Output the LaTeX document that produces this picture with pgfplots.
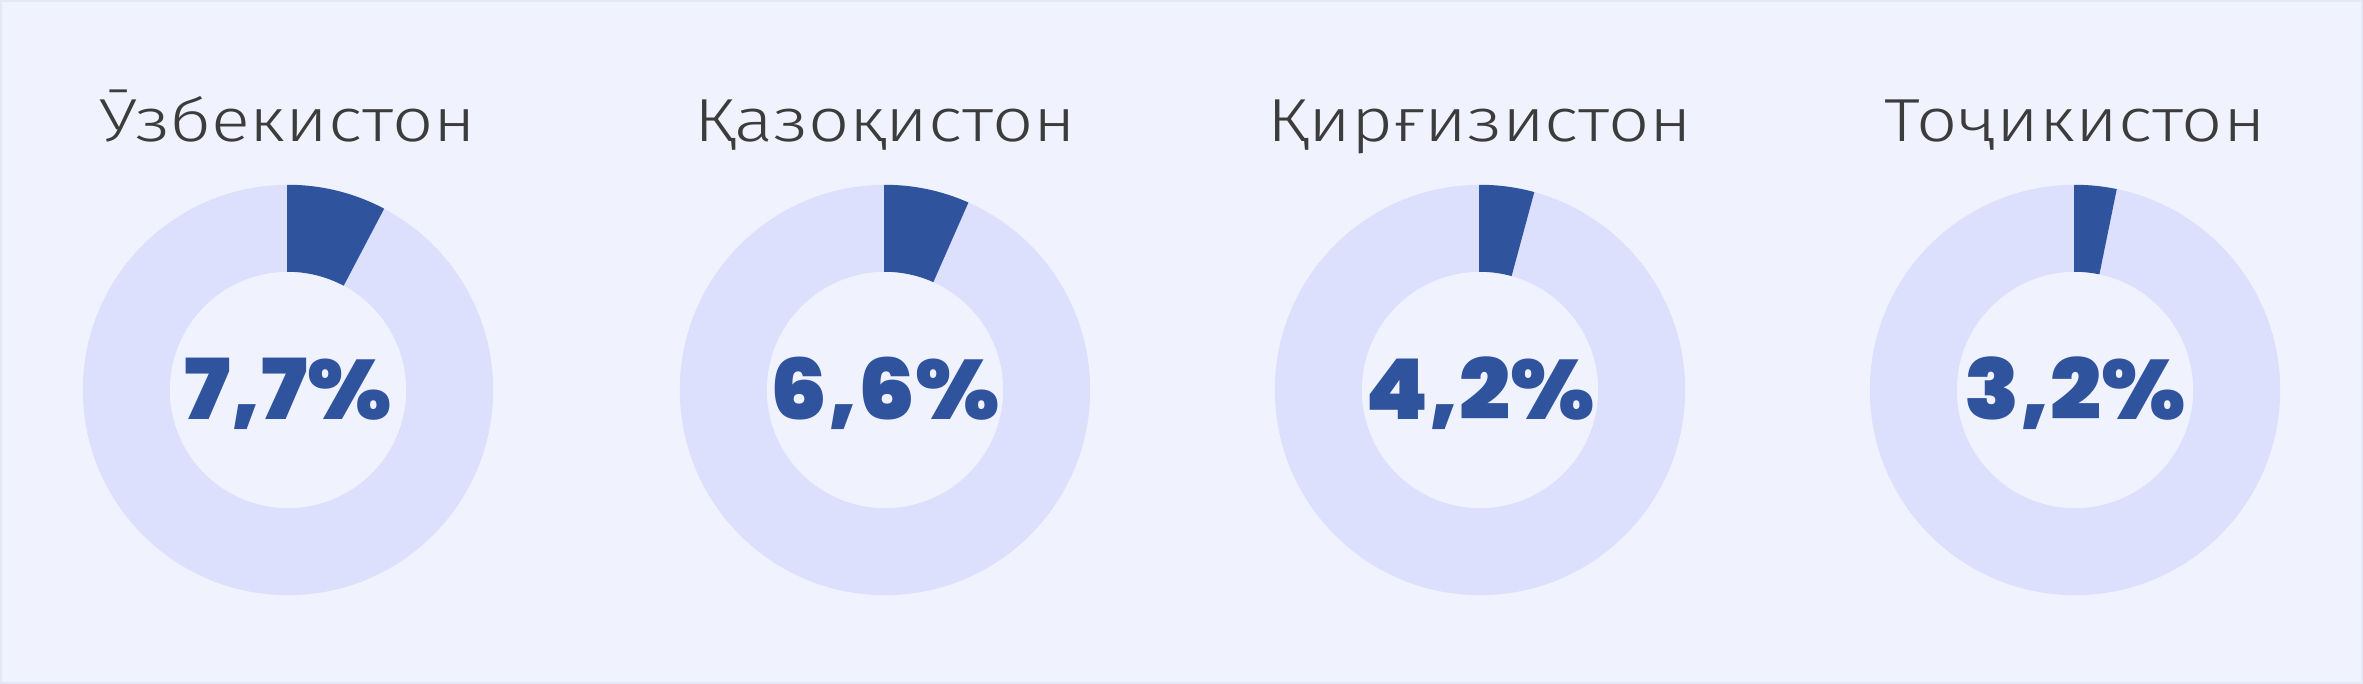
\documentclass[border=0pt]{standalone}
\usepackage{fontspec}
\usepackage{pgfplots}
\pgfplotsset{compat=1.18}
\setmainfont{Fira Sans Light}[FakeStretch=1.19]
\newfontfamily\pctfont{Poppins Black}[FakeStretch=1.07]
\definecolor{bg}{RGB}{240,243,254}
\definecolor{edge}{RGB}{228,232,246}
\definecolor{ring}{RGB}{220,224,252}
\definecolor{wedge}{RGB}{48,83,158}
\definecolor{titlegray}{RGB}{60,60,60}
\pgfdeclareplotmark{blank}{}
\begin{document}
\begin{tikzpicture}
  % 1 px of the reference = 0.25pt
  \fill[bg] (0pt,0pt) rectangle (590.75pt,171pt);
  \draw[edge, line width=0.5pt] (0.25pt,0.25pt) rectangle (590.5pt,170.75pt);
  \begin{axis}[
    at={(0pt,0pt)}, anchor=south west,
    width=590.75pt, height=171pt, scale only axis,
    xmin=0, xmax=2363, ymin=0, ymax=684,
    axis lines=none, ticks=none,
  ]
    % one donut per country, share in % read from column v
    \addplot[
      only marks, scatter, mark=blank,
      point meta=explicit,
      visualization depends on={\thisrow{v} \as \pct},
      scatter/@pre marker code/.code={%
        \fill[ring, even odd rule] (0,0) circle[radius=51.1pt] (0,0) circle[radius=29.75pt];
        \pgfmathsetmacro\ea{90-3.6*\pct}
        \fill[wedge] (90:51.1pt) arc[start angle=90, end angle=\ea, radius=51.1pt]
          -- (\ea:29.75pt) arc[start angle=\ea, end angle=90, radius=29.75pt] -- cycle;
        \node[anchor=base, text=wedge, inner sep=0pt, yshift=-7.4pt,
              font=\pctfont\fontsize{21}{24}\selectfont] at (0,0)
          {\pgfmathprintnumber[fixed, fixed zerofill, precision=1, use comma, assume math mode=true]{\pct}\%};
      },
      scatter/@post marker code/.code={},
    ] table[x=x, y=y, meta=v] {
      x    y   v
      288  294 7.7
      885  294 6.6
      1480 294 4.2
      2075 294 3.2
    };
    \node[anchor=base, text=titlegray, font=\fontsize{15.2}{18}\selectfont] at (axis cs:288,542) {Ӯзбекистон};
    \node[anchor=base, text=titlegray, font=\fontsize{15.2}{18}\selectfont] at (axis cs:885,542) {Қазоқистон};
    \node[anchor=base, text=titlegray, font=\fontsize{15.2}{18}\selectfont] at (axis cs:1480,542) {Қирғизистон};
    \node[anchor=base, text=titlegray, font=\fontsize{15.2}{18}\selectfont] at (axis cs:2075,542) {Тоҷикистон};
  \end{axis}
\end{tikzpicture}
\end{document}
